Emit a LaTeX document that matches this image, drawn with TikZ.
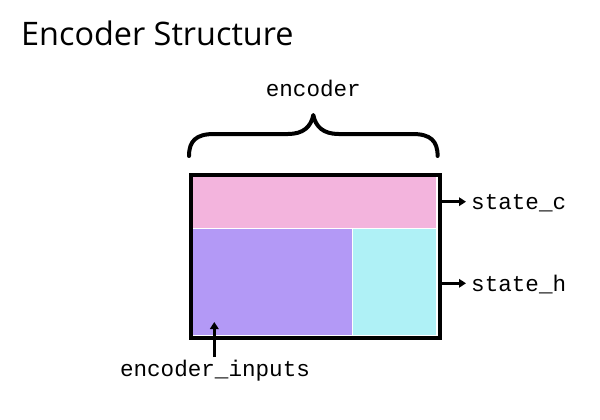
\documentclass[tikz,border=0pt]{standalone}
\usepackage{fontspec}
\setmainfont{Open Sans}
\setmonofont{Liberation Mono}
\usetikzlibrary{arrows.meta,calc}
\definecolor{cpink}{RGB}{243,180,221}
\definecolor{cpurple}{RGB}{179,153,246}
\definecolor{ccyan}{RGB}{175,241,246}
\tikzset{
  region/.style={draw=white,line width=1.5pt,inner sep=0pt,anchor=north west},
  monolabel/.style={font=\ttfamily\fontsize{22.6}{27}\selectfont,inner sep=0pt},
  outarrow/.style={line width=2.6pt,-{Triangle[length=7pt,width=8.5pt]}},
}
\begin{document}
\begin{tikzpicture}[x=1pt,y=-1pt]
\useasboundingbox[fill=white] (0,0) rectangle (600,420);
\node[font=\fontsize{32.4}{38}\selectfont,anchor=base west,inner sep=0pt] (title) at (21,46) {Encoder Structure};
% regions
\node[region,fill=cpink,minimum width=245pt,minimum height=53pt] (pink) at (191,174.5) {};
\node[region,fill=cpurple,minimum width=160.5pt,minimum height=107pt] (purple) at (191,227.5) {};
\node[region,fill=ccyan,minimum width=84.5pt,minimum height=107pt] (cyan) at (351.5,227.5) {};
% frame
\node[draw=black,line width=4pt,inner sep=0pt,minimum width=248.7pt,minimum height=163.3pt,anchor=north west] (frame) at (189.3,172.7) {};
% brace
\draw[line width=4pt,line cap=round,line join=round]
  (189,156) .. controls (189,141) and (196,134) .. (214,134) -- (288,134)
  .. controls (303,134) and (311,127) .. (313.3,115)
  .. controls (315.6,127) and (323.6,134) .. (338.6,134) -- (412.6,134)
  .. controls (430.6,134) and (437.6,141) .. (437.6,156);
\node[monolabel,anchor=base] (enc) at (313.3,96.7) {encoder};
% outputs
\node[monolabel,anchor=base west] (statec) at (471,209.3) {state\_c};
\node[monolabel,anchor=base west] (stateh) at (471,291) {state\_h};
\draw[outarrow] (frame.east |- 0,201.7) -- (466,201.7);
\draw[outarrow] (frame.east |- 0,283.3) -- (466,283.3);
% input
\node[monolabel,anchor=base] (inputs) at (215,376.7) {encoder\_inputs};
\coordinate (intip) at (214.3,322);
\draw[outarrow] (214.3,357) -- (intip);
\end{tikzpicture}
\end{document}
